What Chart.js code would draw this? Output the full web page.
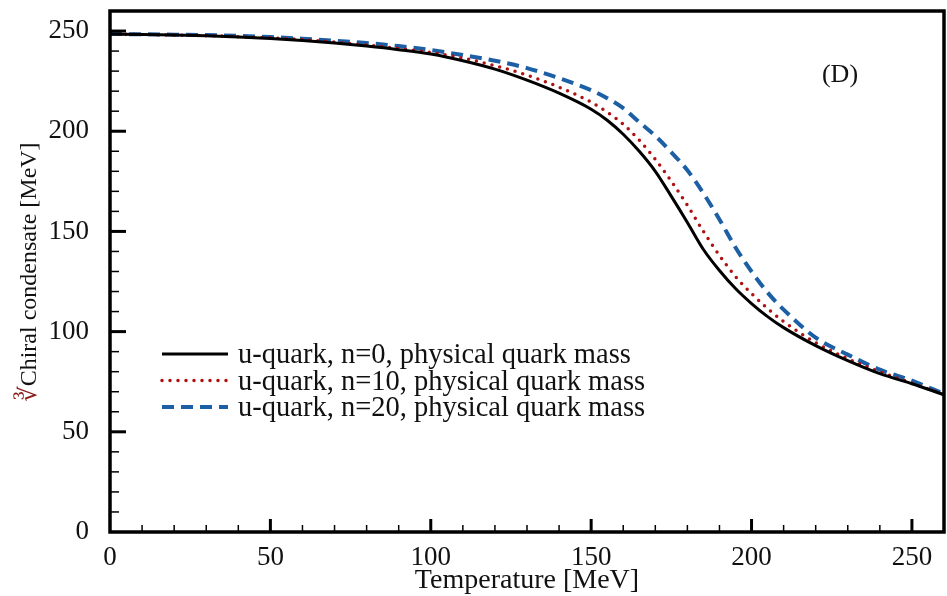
<!DOCTYPE html>
<html>
<head>
<meta charset="utf-8">
<script src="https://cdn.jsdelivr.net/npm/chart.js@4.4.0/dist/chart.umd.min.js"></script>
<style>
  html, body { margin: 0; padding: 0; background: #fff; }
</style>
</head>
<body>
<canvas id="chart" width="947" height="596"></canvas>
<script>
// temperatures [MeV]
const temps = [0, 10, 20, 30, 40, 50, 60, 70, 80, 90, 100, 110, 120, 130, 140, 150,
               155, 160, 165, 170, 175, 180, 185, 190, 195, 200, 205, 210,
               220, 230, 240, 250, 260];

// cube root of chiral condensate [MeV]
const cond_n0 = [248.5, 248.3, 248, 247.6, 247, 246.3, 245.3, 244, 242.5, 240.7, 238.5, 235.2, 231, 225.5, 219, 211,
                 205.5, 198.5, 190, 180, 167.5, 154.5, 141, 130.5, 121.5, 114, 107.5, 102,
                 93, 85.5, 79, 74, 68.5];
const cond_n10 = [248.5, 248.3, 248, 247.7, 247.2, 246.6, 245.7, 244.5, 243, 241.3, 239.3, 236.5, 232.7, 228, 222, 214.5,
                  209.5, 203.5, 195.5, 186, 175, 163, 150, 138, 127.5, 119, 111.5, 105,
                  94.5, 86.5, 80, 74.3, 68.5];
const cond_n20 = [248.5, 248.4, 248.2, 248, 247.6, 247, 246.2, 245.2, 244, 242.5, 240.5, 238, 235.2, 231.5, 226.5, 220.5,
                  216.5, 211.5, 204.5, 197.7, 189.5, 180.5, 169, 156, 142, 130, 119.5, 111,
                  97, 88.5, 81, 75.5, 69];

const labels = ["u-quark, n=0, physical quark mass",
                "u-quark, n=10, physical quark mass",
                "u-quark, n=20, physical quark mass"];

const xTicks = [0, 50, 100, 150, 200, 250];
const yTicks = [0, 50, 100, 150, 200, 250];

const serif = '"Liberation Serif", "DejaVu Serif", serif';

function pts(vals) {
  return temps.map((t, i) => ({x: t, y: vals[i]}));
}

const styles = [
  {color: '#000000', width: 3, dash: [], cap: 'butt'},
  {color: '#b01010', width: 3.5, dash: [0, 8], cap: 'round'},
  {color: '#1c5fa5', width: 4, dash: [12, 7], cap: 'butt'}
];

const series = [cond_n0, cond_n10, cond_n20];

const datasets = series.map((s, i) => ({
  label: labels[i],
  data: pts(s),
  borderColor: styles[i].color,
  borderWidth: styles[i].width,
  borderDash: styles[i].dash,
  borderCapStyle: styles[i].cap,
  pointRadius: 0,
  fill: false,
  cubicInterpolationMode: 'monotone'
}));

// inner ticks, frame, legend, y title and panel tag
const decor = {
  id: 'decor',
  afterDatasetsDraw(chart) {
    const ctx = chart.ctx;
    const a = chart.chartArea;
    const xs = chart.scales.x, ys = chart.scales.y;
    ctx.save();
    ctx.strokeStyle = '#000';

    for (let v = 10; v < 260; v += 10) {
      const major = v % 50 === 0;
      const py = ys.getPixelForValue(v);
      ctx.lineWidth = major ? 3 : 1.5;
      ctx.beginPath();
      ctx.moveTo(a.left, py);
      ctx.lineTo(a.left + (major ? 16 : 9), py);
      ctx.stroke();
      const px = xs.getPixelForValue(v);
      ctx.beginPath();
      ctx.moveTo(px, a.bottom);
      ctx.lineTo(px, a.bottom - (major ? 13 : 7));
      ctx.stroke();
    }

    ctx.lineWidth = 3.5;
    ctx.strokeRect(a.left, a.top, a.right - a.left, a.bottom - a.top);

    // legend
    ctx.font = '28.5px ' + serif;
    ctx.textBaseline = 'middle';
    ctx.textAlign = 'left';
    const rows = [355, 381.5, 408];
    datasets.forEach((d, i) => {
      const st = styles[i];
      ctx.strokeStyle = st.color;
      ctx.lineWidth = st.width;
      ctx.setLineDash(st.dash);
      ctx.lineCap = st.cap;
      ctx.beginPath();
      ctx.moveTo(162, rows[i] - 1);
      ctx.lineTo(228, rows[i] - 1);
      ctx.stroke();
      ctx.setLineDash([]);
      ctx.lineCap = 'butt';
      ctx.fillStyle = '#111';
      ctx.fillText(d.label, 238, rows[i] + 1);
    });

    // panel tag
    ctx.textAlign = 'center';
    ctx.font = '26px ' + serif;
    ctx.fillText('(D)', 840, 75);

    // y axis title
    ctx.translate(30, 272);
    ctx.rotate(-Math.PI / 2);
    ctx.font = '24px ' + serif;
    const root = '\u221B';
    const rest = 'Chiral condensate [MeV]';
    const w1 = ctx.measureText(root).width;
    const w2 = ctx.measureText(rest).width;
    const x0 = -(w1 + w2) / 2;
    ctx.textAlign = 'left';
    ctx.fillStyle = '#8b1a1a';
    ctx.fillText(root, x0, 0);
    ctx.fillStyle = '#111';
    ctx.fillText(rest, x0 + w1, 0);
    ctx.restore();
  }
};

new Chart(document.getElementById('chart').getContext('2d'), {
  type: 'line',
  data: {datasets: datasets},
  options: {
    responsive: false,
    animation: false,
    layout: {padding: {top: 11, right: 3, left: 0, bottom: 0}},
    plugins: {legend: {display: false}, tooltip: {enabled: false}},
    scales: {
      x: {
        type: 'linear',
        min: 0, max: 260,
        afterFit(s) { s.height = 64; s.paddingLeft = 0; s.paddingRight = 0; },
        afterBuildTicks(s) { s.ticks = xTicks.map(v => ({value: v})); },
        grid: {display: false},
        border: {display: false},
        ticks: {
          autoSkip: false, maxRotation: 0, padding: 2,
          color: '#111', font: {family: serif, size: 27}
        },
        title: {
          display: true, text: 'Temperature [MeV]',
          color: '#111', font: {family: serif, size: 28, lineHeight: 1},
          padding: {top: 0, bottom: 1}
        }
      },
      y: {
        min: 0, max: 260,
        afterFit(s) { s.width = 110; s.paddingTop = 0; s.paddingBottom = 0; },
        afterBuildTicks(s) { s.ticks = yTicks.map(v => ({value: v})); },
        grid: {display: false},
        border: {display: false},
        ticks: {
          padding: 13,
          color: '#111', font: {family: serif, size: 27}
        }
      }
    }
  },
  plugins: [decor]
});
</script>
</body>
</html>
